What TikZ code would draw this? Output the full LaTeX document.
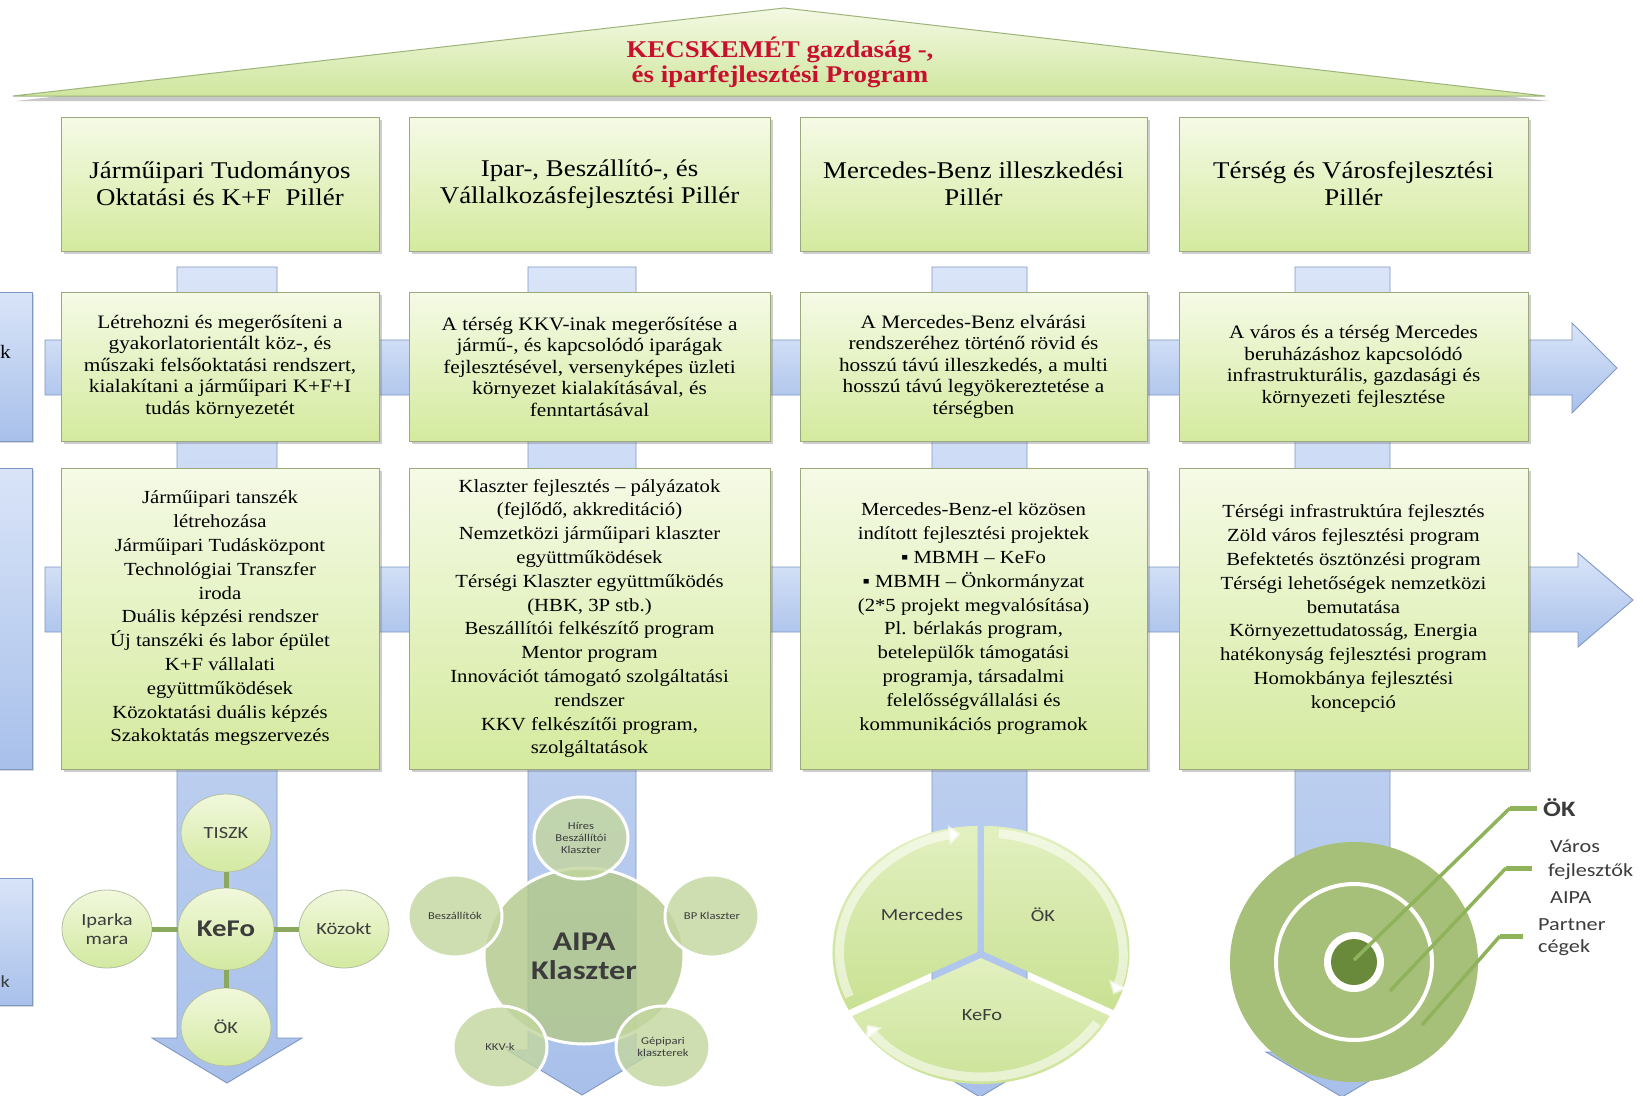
\documentclass[tikz,border=0pt]{standalone}
\usepackage{fontspec}
\setmainfont{Liberation Serif}
\newfontfamily\wserif[FakeStretch=1.12]{Liberation Serif}
\newfontfamily\wsans[FakeStretch=1.2]{Carlito}
\usetikzlibrary{shapes.geometric,shadows,arrows.meta}
\definecolor{boxtop}{HTML}{F5FAE6}
\definecolor{boxbot}{HTML}{D4EA9E}
\definecolor{boxline}{HTML}{9AAA7C}
\definecolor{bartop}{HTML}{D9E4F8}
\definecolor{barbot}{HTML}{A8C0EA}
\definecolor{barline}{HTML}{7F97C3}
\definecolor{titlered}{HTML}{C8102E}
\definecolor{rooftop}{HTML}{F4F9E4}
\definecolor{roofbot}{HTML}{CFE69E}
\definecolor{roofline}{HTML}{9DB47A}
\definecolor{ktop}{HTML}{F1F8DC}
\definecolor{kbot}{HTML}{D3E9A0}
\definecolor{kline}{HTML}{B4C0A4}
\definecolor{kconn}{HTML}{8AA95E}
\definecolor{aipabig}{HTML}{B3C98A}
\definecolor{aipasat}{HTML}{C3D69E}
\definecolor{pietop}{HTML}{E2F0C0}
\definecolor{piebot}{HTML}{C9E193}
\definecolor{tgreen}{HTML}{A7C079}
\definecolor{tdark}{HTML}{6A8A3B}
\definecolor{leadc}{HTML}{8EB35A}
\definecolor{textgray}{HTML}{3C3C3C}
\newcommand\fTitle{\wserif\bfseries\fontsize{24}{25}\selectfont}
\newcommand\fHead{\wserif\fontsize{24}{27}\selectfont}
\newcommand\fRowB{\wserif\fontsize{19}{21.5}\selectfont}
\newcommand\fRowC{\wserif\fontsize{18.5}{23.8}\selectfont}
\newcommand\fSans{\wsans\fontsize{17}{19}\selectfont}
\newcommand\fSmall{\wsans\fontsize{10.5}{12}\selectfont}
\begin{document}
\begin{tikzpicture}[x=1pt,y=-1pt,
  greenbox/.style={draw=boxline, line width=1pt, top color=boxtop, bottom color=boxbot,
     drop shadow={shadow xshift=3pt, shadow yshift=-3pt, opacity=.35, fill=black!55},
     inner sep=0pt, align=center, text=black},
  bluebar/.style={draw=barline, line width=.9pt, top color=bartop, bottom color=barbot},
  leftbox/.style={draw=barline, line width=.9pt, top color=bartop, bottom color=barbot,
     drop shadow={shadow xshift=2pt, shadow yshift=-2pt, opacity=.3, fill=black!50}},
  kcirc/.style={ellipse, draw=kline, line width=.8pt, top color=ktop, bottom color=kbot,
     minimum width=90pt, minimum height=78pt, inner sep=0pt, align=center,
     font=\fSans, text=textgray},
  kline/.style={draw=kconn, line width=5pt},
  bigc/.style={ellipse, fill=aipabig, fill opacity=.82, text opacity=1, draw=white, line width=3pt,
     minimum width=200pt, minimum height=176pt, inner sep=0pt, align=center, text=textgray,
     font=\wsans\bfseries\fontsize{27}{29}\selectfont},
  satc/.style={ellipse, fill=aipasat, fill opacity=.8, text opacity=1, draw=white, line width=3pt,
     minimum width=94pt, minimum height=82pt, inner sep=0pt, align=center, text=textgray,
     font=\fSmall},
  pieseg/.style={top color=pietop, bottom color=piebot},
  rim/.style={draw=white, draw opacity=.55, line width=9pt, -{Triangle[width=20pt,length=12pt]}},
  leader/.style={draw=leadc, line width=3.5pt},
  stub/.style={draw=leadc, line width=5pt},
  tlab/.style={anchor=west, inner sep=0pt, font=\wsans\fontsize{18.5}{20}\selectfont, text=textgray},
  piel/.style={font=\fSans, text=textgray}
]
\useasboundingbox (0,0) rectangle (1643,1095);
\fill[white] (0,0) rectangle (1643,1095);

% roof
\fill[black, opacity=.22] (16,101) -- (784,13) -- (1549,101) -- cycle;
\path[draw=roofline, line width=1pt, top color=rooftop, bottom color=roofbot]
   (13,96) -- (784,8) -- (1545,96) -- cycle;
\node[font=\fTitle, text=titlered, align=center] (title) at (780,62)
   {KECSKEMÉT gazdaság -,\\és iparfejlesztési Program};

% left partial boxes
\path[leftbox] (-5,292) rectangle (32,441);
\path[leftbox] (-5,468) rectangle (32,769);
\path[leftbox] (-5,878) rectangle (32,1005);
\node[anchor=east, inner sep=0pt, font=\fRowB] (lk1) at (11,352) {k};
\node[anchor=east, inner sep=0pt, font=\fSans, text=textgray] (lk2) at (10,982) {k};

% vertical pillar arrows
\path[bluebar] (177,267) -- (277,267) -- (277,1038) -- (302,1038) -- (227,1083) -- (152,1038) -- (177,1038) -- cycle;
\path[bluebar] (528,267) -- (636,267) -- (636,1050) -- (657,1050) -- (582,1095) -- (507,1050) -- (528,1050) -- cycle;
\path[bluebar] (932,267) -- (1027,267) -- (1027,1052) -- (1055,1052) -- (980,1097) -- (905,1052) -- (932,1052) -- cycle;
\path[bluebar] (1295,267) -- (1390,267) -- (1390,1052) -- (1418,1052) -- (1342,1097) -- (1266,1052) -- (1295,1052) -- cycle;

% horizontal arrows
\path[bluebar] (45,340) -- (1572,340) -- (1572,323) -- (1617,368) -- (1572,413) -- (1572,395) -- (45,395) -- cycle;
\path[bluebar] (45,567) -- (1578,567) -- (1578,553) -- (1633,600) -- (1578,647) -- (1578,632) -- (45,632) -- cycle;

% headers
\node[greenbox, minimum width=318pt, minimum height=134pt, font=\fHead] (h1) at (220,184)
  {Járműipari Tudományos\\Oktatási és K+F\hspace{0.6em}Pillér};
\node[greenbox, minimum width=361pt, minimum height=134pt, font=\fHead] (h2) at (589.5,184)
  {Ipar-, Beszállító-, és\\Vállalkozásfejlesztési Pillér};
\node[greenbox, minimum width=347pt, minimum height=134pt, font=\fHead] (h3) at (973.5,184)
  {Mercedes-Benz illeszkedési\\Pillér};
\node[greenbox, minimum width=349pt, minimum height=134pt, font=\fHead] (h4) at (1353.5,184)
  {Térség és Városfejlesztési\\Pillér};

% row 2
\node[greenbox, minimum width=318pt, minimum height=149pt, font=\fRowB] (r2a) at (220,366.5)
  {Létrehozni és megerősíteni a\\gyakorlatorientált köz-, és\\műszaki felsőoktatási rendszert,\\kialakítani a járműipari K+F+I\\tudás környezetét};
\node[greenbox, minimum width=361pt, minimum height=149pt, font=\fRowB] (r2b) at (589.5,366.5)
  {A térség KKV-inak megerősítése a\\jármű-, és kapcsolódó iparágak\\fejlesztésével, versenyképes üzleti\\környezet kialakításával, és\\fenntartásával};
\node[greenbox, minimum width=347pt, minimum height=149pt, font=\fRowB] (r2c) at (973.5,366.5)
  {A Mercedes-Benz elvárási\\rendszeréhez történő rövid és\\hosszú távú illeszkedés, a multi\\hosszú távú legyökereztetése a\\térségben};
\node[greenbox, minimum width=349pt, minimum height=149pt, font=\fRowB] (r2d) at (1353.5,366.5)
  {A város és a térség Mercedes\\beruházáshoz kapcsolódó\\infrastrukturális, gazdasági és\\környezeti fejlesztése};

% row 3
\node[greenbox, minimum width=318pt, minimum height=301pt, font=\fRowC] (r3a) at (220,618.5)
  {Járműipari tanszék\\létrehozása\\Járműipari Tudásközpont\\Technológiai Transzfer\\iroda\\Duális képzési rendszer\\Új tanszéki és labor épület\\K+F vállalati\\együttműködések\\Közoktatási duális képzés\\Szakoktatás megszervezés};
\node[greenbox, minimum width=361pt, minimum height=301pt, font=\fRowC] (r3b) at (589.5,618.5)
  {Klaszter fejlesztés – pályázatok\\(fejlődő, akkreditáció)\\Nemzetközi járműipari klaszter\\együttműködések\\Térségi Klaszter együttműködés\\(HBK, 3P stb.)\\Beszállítói felkészítő program\\Mentor program\\Innovációt támogató szolgáltatási\\rendszer\\KKV felkészítői program,\\szolgáltatások};
\node[greenbox, minimum width=347pt, minimum height=301pt, font=\fRowC] (r3c) at (973.5,618.5)
  {Mercedes-Benz-el közösen\\indított fejlesztési projektek\\▪ MBMH – KeFo\\▪ MBMH – Önkormányzat\\(2*5 projekt megvalósítása)\\Pl. bérlakás program,\\betelepülők támogatási\\programja, társadalmi\\felelősségvállalási és\\kommunikációs programok};
\node[greenbox, minimum width=349pt, minimum height=301pt, font=\fRowC] (r3d) at (1353.5,618.5)
  {Térségi infrastruktúra fejlesztés\\Zöld város fejlesztési program\\Befektetés ösztönzési program\\Térségi lehetőségek nemzetközi\\bemutatása\\Környezettudatosság, Energia\\hatékonyság fejlesztési program\\Homokbánya fejlesztési\\koncepció\\\mbox{}};

% pillar 1: KeFo cluster
\node[kcirc] (tiszk) at (226,833) {TISZK};
\node[kcirc, minimum width=96pt, minimum height=82pt, font=\wsans\bfseries\fontsize{24}{26}\selectfont] (kefo) at (226,929) {KeFo};
\node[kcirc] (ipar) at (107,929) {Iparka\\mara};
\node[kcirc] (kozokt) at (344,929) {Közokt};
\node[kcirc] (ok1) at (226,1027) {ÖK};
\draw[kline] (kefo) -- (tiszk);
\draw[kline] (kefo) -- (ipar);
\draw[kline] (kefo) -- (kozokt);
\draw[kline] (kefo) -- (ok1);

% pillar 2: AIPA cluster
\node[bigc] (aipa) at (584,956) {AIPA\\Klaszter};
\node[satc] (hires) at (581,838) {Híres\\Beszállítói\\Klaszter};
\node[satc] (besz) at (455,916) {Beszállítók};
\node[satc] (bp) at (712,916) {BP Klaszter};
\node[satc] (kkv) at (500,1047) {KKV-k};
\node[satc] (gep) at (663,1047) {Gépipari\\klaszterek};

% pillar 3: cycle
\begin{scope}[shift={(-3.5,-2)}]
  \path[pieseg] (981,954) -- ++(152.6:145 and 126) arc[start angle=152.6,end angle=270,x radius=145,y radius=126] -- cycle;
  \draw[rim] ([shift={(981,954)}]158:138 and 119) arc[start angle=158,end angle=263,x radius=138,y radius=119];
\end{scope}
\begin{scope}[shift={(3.5,-2)}]
  \path[pieseg] (981,954) -- ++(-90:145 and 126) arc[start angle=-90,end angle=27.4,x radius=145,y radius=126] -- cycle;
  \draw[rim] ([shift={(981,954)}]-84:138 and 119) arc[start angle=-84,end angle=21,x radius=138,y radius=119];
\end{scope}
\begin{scope}[shift={(0,4)}]
  \path[pieseg] (981,954) -- ++(27.4:145 and 126) arc[start angle=27.4,end angle=152.6,x radius=145,y radius=126] -- cycle;
  \draw[rim] ([shift={(981,954)}]33:138 and 119) arc[start angle=33,end angle=146,x radius=138,y radius=119];
\end{scope}
\node[piel] (pmerc) at (922,915) {Mercedes};
\node[piel] (pok) at (1043,915) {ÖK};
\node[piel] (pkefo) at (982,1015) {KeFo};

% pillar 4: target
\node[ellipse, fill=tgreen, minimum width=248pt, minimum height=240pt, inner sep=0pt] (tgt) at (1354,962) {};
\draw[white, line width=4pt] (tgt.center) circle[radius=78];
\fill[white] (tgt.center) circle[radius=30];
\fill[tdark] (tgt.center) circle[radius=23];
\node[tlab, font=\wsans\bfseries\fontsize{22}{24}\selectfont] (lok) at (1543,808) {ÖK};
\node[tlab] (lvaros) at (1550,846) {Város};
\node[tlab] (lfejl) at (1548,872) {fejlesztők};
\node[tlab] (laipa) at (1550,898) {AIPA};
\node[tlab] (lpart) at (1538,925) {Partner};
\node[tlab] (lceg) at (1538,948) {cégek};
\coordinate (a1) at (1354,960); \coordinate (b1) at (1510,808); \coordinate (c1) at (1537,808);
\coordinate (a2) at (1390,991); \coordinate (b2) at (1506,868); \coordinate (c2) at (1532,868);
\coordinate (a3) at (1422,1025); \coordinate (b3) at (1500,936); \coordinate (c3) at (1523,936);
\draw[leader] (a1) -- (b1); \draw[stub] (b1) -- (c1);
\draw[leader] (a2) -- (b2); \draw[stub] (b2) -- (c2);
\draw[leader] (a3) -- (b3); \draw[stub] (b3) -- (c3);
\end{tikzpicture}
\end{document}
